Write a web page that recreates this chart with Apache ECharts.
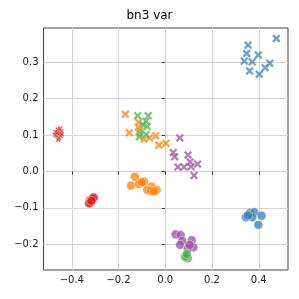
<!DOCTYPE html>
<html><head><meta charset="utf-8">
<script src="https://cdn.jsdelivr.net/npm/echarts@6/dist/echarts.min.js"></script>
<style>html,body{margin:0;padding:0;background:#fff}#c{width:299px;height:299px}</style>
</head><body><div id="c"></div>
<script>
var title = 'bn3 var';
var xTicks = [-0.4, -0.2, 0.0, 0.2, 0.4];
var yTicks = [-0.2, -0.1, 0.0, 0.1, 0.2, 0.3];

// crosses
var blueCross = [[0.475,0.365],[0.354,0.347],[0.348,0.324],[0.398,0.320],[0.338,0.303],[0.372,0.301],[0.447,0.297],[0.427,0.285],[0.361,0.276],[0.402,0.267]];
var orangeCross = [[-0.171,0.157],[-0.114,0.135],[-0.115,0.122],[-0.154,0.106],[-0.108,0.112],[-0.091,0.088],[-0.068,0.092],[-0.041,0.098],[-0.027,0.072],[0.003,0.077]];
var greenCross = [[-0.118,0.153],[-0.073,0.153],[-0.083,0.138],[-0.077,0.123],[-0.108,0.104],[-0.111,0.095],[-0.082,0.101],[-0.095,0.128]];
var purpleCross = [[0.062,0.092],[0.034,0.052],[0.040,0.040],[0.097,0.045],[0.106,0.026],[0.138,0.020],[0.054,0.012],[0.080,0.012],[0.110,0.013],[0.123,-0.011]];
var redCross = [[-0.470,0.108],[-0.460,0.115],[-0.452,0.104],[-0.445,0.110],[-0.465,0.098],[-0.455,0.092],[-0.448,0.097],[-0.472,0.101],[-0.458,0.087],[-0.450,0.118],[-0.462,0.106],[-0.443,0.102]];

// circles
var redCircle = [[-0.322,-0.079],[-0.318,-0.085],[-0.312,-0.075],[-0.306,-0.072],[-0.326,-0.088],[-0.316,-0.081]];
var orangeCircle = [[-0.130,-0.015],[-0.147,-0.039],[-0.113,-0.035],[-0.091,-0.028],[-0.058,-0.042],[-0.077,-0.051],[-0.061,-0.053],[-0.037,-0.051],[-0.048,-0.055],[-0.100,-0.030]];
var blueCircle = [[0.345,-0.126],[0.362,-0.114],[0.381,-0.112],[0.412,-0.122],[0.398,-0.147],[0.372,-0.126],[0.354,-0.121]];
var purpleCircle = [[0.044,-0.173],[0.066,-0.175],[0.073,-0.191],[0.063,-0.202],[0.113,-0.189],[0.120,-0.209],[0.096,-0.212],[0.104,-0.202]];
var greenCircle = [[0.089,-0.231],[0.096,-0.239],[0.085,-0.235],[0.092,-0.227]];

var XPATH = 'path://M0,2 L2,0 L5,3 L8,0 L10,2 L7,5 L10,8 L8,10 L5,7 L2,10 L0,8 L3,5 Z';
var colors = {blue:'#377eb8', orange:'#ff7f00', green:'#4daf4a', purple:'#984ea3', red:'#e41a1c'};

function s(data, col, cross, size){
  return {type:'scatter', data:data, symbol: cross ? XPATH : 'circle', symbolSize: size,
    itemStyle:{color:col, opacity:0.75, borderColor:'#fff', borderWidth: cross?0.3:0.6}};
}
function fmt(v){ return (v<0?'\u2212':'') + Math.abs(v).toFixed(1); }

var chart = echarts.init(document.getElementById('c'), null, {renderer:'canvas'});
chart.setOption({
  animation:false,
  title:{text:title, left:'center', top:5, textStyle:{fontFamily:'DejaVu Sans', fontSize:12, fontWeight:'normal', color:'#000'}},
  grid:{left:43.5, right:11, top:28, bottom:29, show:true, borderColor:'#444', borderWidth:1, backgroundColor:'transparent'},
  xAxis:{type:'value', min:-0.521, max:0.525,
    axisLine:{show:false},
    axisTick:{show:true, length:3.5, lineStyle:{color:'#444'}, customValues:xTicks},
    axisLabel:{customValues:xTicks, formatter:fmt, fontFamily:'DejaVu Sans', fontSize:10, color:'#222', margin:5},
    splitLine:{show:true, lineStyle:{color:'#d5d5d5', width:1}}},
  yAxis:{type:'value', min:-0.271, max:0.394,
    axisLine:{show:false},
    axisTick:{show:true, length:3.5, lineStyle:{color:'#444'}, customValues:yTicks},
    axisLabel:{customValues:yTicks, formatter:fmt, fontFamily:'DejaVu Sans', fontSize:10, color:'#222', margin:5},
    splitLine:{show:true, lineStyle:{color:'#d5d5d5', width:1}}},
  series:[
    s(blueCross, colors.blue, true, 8.5),
    s(orangeCross, colors.orange, true, 8.5),
    s(greenCross, colors.green, true, 8.5),
    s(purpleCross, colors.purple, true, 8.5),
    s(redCross, colors.red, true, 5),
    s(redCircle, colors.red, false, 9),
    s(orangeCircle, colors.orange, false, 9),
    s(blueCircle, colors.blue, false, 9),
    s(purpleCircle, colors.purple, false, 9),
    s(greenCircle, colors.green, false, 9)
  ]
});
</script></body></html>
